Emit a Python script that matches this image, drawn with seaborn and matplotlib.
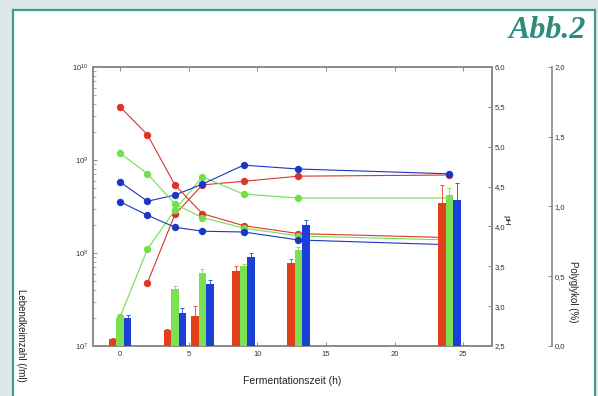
import matplotlib
matplotlib.use("Agg")
import matplotlib.pyplot as plt
import seaborn as sns
import numpy as np
import pandas as pd
from matplotlib.patches import Rectangle
from matplotlib.ticker import LogLocator, FixedLocator, NullFormatter, FuncFormatter

sns.set_theme(style="ticks")
plt.rcParams['font.family'] = ['Liberation Sans', 'DejaVu Sans']

# ---------------- data ----------------
strains = ["rot", "grün", "blau"]
colors_line = {"rot": "#dc3428", "grün": "#72de4e", "blau": "#1a36c4"}
colors_bar = {"rot": "#e2401a", "grün": "#7ae252", "blau": "#1a40d8"}

time_all = [0, 2, 4, 6, 9, 13, 24]
time_red_cells = [2, 4, 6, 9, 13, 24]
red_cells = [4.8e7, 2.6e8, 5.4e8, 5.9e8, 6.7e8, 6.9e8]
green_cells = [2.05e7, 1.1e8, 2.9e8, 6.6e8, 4.3e8, 3.9e8, 3.9e8]
blue_cells = [5.8e8, 3.6e8, 4.2e8, 5.5e8, 8.8e8, 8.0e8, 7.1e8]

red_ph = [5.50, 5.15, 4.52, 4.16, 4.01, 3.91, 3.86]
green_ph = [4.92, 4.66, 4.28, 4.11, 3.98, 3.88, 3.83]
blue_ph = [4.31, 4.14, 3.99, 3.94, 3.93, 3.83, 3.77]

bar_time = [0, 4, 6, 9, 13, 24]
red_bar = [0.05, 0.115, 0.215, 0.54, 0.595, 1.025]
green_bar = [0.20, 0.41, 0.52, 0.57, 0.69, 1.08]
blue_bar = [0.20, 0.24, 0.445, 0.64, 0.87, 1.05]
red_err = [0.01, 0.01, 0.07, 0.03, 0.03, 0.13]
green_err = [0.01, 0.02, 0.03, 0.02, 0.02, 0.05]
blue_err = [0.02, 0.03, 0.03, 0.03, 0.03, 0.12]

x_ticks = [0, 5, 10, 15, 20, 25]
ph_ticks = [2.5, 3.0, 3.5, 4.0, 4.5, 5.0, 5.5, 6.0]
pg_ticks = [0.0, 0.5, 1.0, 1.5, 2.0]

# ---------------- frames ----------------
cells_df = pd.concat([
    pd.DataFrame({"t": time_red_cells, "v": red_cells, "s": "rot"}),
    pd.DataFrame({"t": time_all, "v": green_cells, "s": "grün"}),
    pd.DataFrame({"t": time_all, "v": blue_cells, "s": "blau"}),
])
ph_df = pd.concat([
    pd.DataFrame({"t": time_all, "v": red_ph, "s": "rot"}),
    pd.DataFrame({"t": time_all, "v": green_ph, "s": "grün"}),
    pd.DataFrame({"t": time_all, "v": blue_ph, "s": "blau"}),
])
bar_df = pd.concat([
    pd.DataFrame({"t": bar_time, "v": red_bar, "e": red_err, "s": "rot"}),
    pd.DataFrame({"t": bar_time, "v": green_bar, "e": green_err, "s": "grün"}),
    pd.DataFrame({"t": bar_time, "v": blue_bar, "e": blue_err, "s": "blau"}),
])

# ---------------- figure ----------------
W, H = 598, 396
fig = plt.figure(figsize=(W / 100, H / 100), dpi=100)
fig.patch.set_facecolor("#dce9e7")
panel = Rectangle((13 / W, -0.05), (595 - 13) / W, 1 - 9.5 / H + 0.05,
                  transform=fig.transFigure, facecolor="white",
                  edgecolor="#3f9e90", linewidth=1.6, zorder=-5)
fig.add_artist(panel)

ax1 = fig.add_axes([93 / W, 1 - 346 / H, (492 - 93) / W, (346 - 67) / H])
ax1.set_facecolor("white")
ax2 = ax1.twinx()
ax3 = ax1.twinx()

spine_col = "#8a8a8a"
tick_col = "#333333"
XLIM = (-1.97, 27.1)

# lines
sns.lineplot(data=cells_df, x="t", y="v", hue="s", hue_order=strains,
             palette=colors_line, marker="o", markersize=5.3, markeredgewidth=0,
             linewidth=0.8, errorbar=None, legend=False, ax=ax1, sort=True)
sns.lineplot(data=ph_df, x="t", y="v", hue="s", hue_order=strains,
             palette=colors_line, marker="o", markersize=5.3, markeredgewidth=0,
             linewidth=0.8, errorbar=None, legend=False, ax=ax2, sort=True)

# bars
sns.barplot(data=bar_df, x="t", y="v", hue="s", hue_order=strains,
            palette=colors_bar, native_scale=True, errorbar=None,
            legend=False, ax=ax3, width=0.82, saturation=1, linewidth=0)
# error bars at the bar centres
for patch_group, s in zip(ax3.containers, strains):
    sub = bar_df[bar_df["s"] == s]
    xs = [p.get_x() + p.get_width() / 2 for p in patch_group]
    ax3.errorbar(xs, sub["v"].values,
                 yerr=[np.zeros(len(sub)), sub["e"].values],
                 fmt="none", ecolor=colors_bar[s], elinewidth=0.6,
                 capsize=1.5, capthick=0.6)

# ---------------- axes styling ----------------
ax1.set_yscale("log")
ax1.set_ylim(1e7, 1e10)
ax1.set_xlim(*XLIM)
ax1.xaxis.set_major_locator(FixedLocator(x_ticks))
ax1.yaxis.set_major_locator(LogLocator(base=10, numticks=10))
ax1.yaxis.set_minor_locator(LogLocator(base=10, subs=np.arange(2, 10), numticks=10))
ax1.yaxis.set_minor_formatter(NullFormatter())
ax1.tick_params(axis="both", which="both", direction="in", colors=spine_col,
                labelcolor=tick_col, labelsize=5.5, top=True)
ax1.tick_params(axis="both", which="major", length=3, width=0.7)
ax1.tick_params(axis="y", which="minor", length=1.8, width=0.5)
ax1.tick_params(axis="x", which="minor", length=0)
ax1.set_xlabel("")
ax1.set_ylabel("")

ax2.set_ylim(2.5, 6.0)
ax2.yaxis.set_major_locator(FixedLocator(ph_ticks))
ax2.yaxis.set_major_formatter(FuncFormatter(lambda v, p: f"{v:.1f}".replace(".", ",")))
ax2.tick_params(axis="y", direction="in", length=3, width=0.7, colors=spine_col,
                labelcolor=tick_col, labelsize=5.5, pad=2)
ax2.set_ylabel("")
ax2.set_xlabel("")

ax3.set_ylim(0, 2.0)
ax3.set_xlim(*XLIM)
ax3.yaxis.set_major_locator(FixedLocator(pg_ticks))
ax3.yaxis.set_major_formatter(FuncFormatter(lambda v, p: f"{v:.1f}".replace(".", ",")))
ax3.spines["right"].set_position(("axes", 1.15))
for sp in ["top", "left", "bottom"]:
    ax3.spines[sp].set_visible(False)
ax3.tick_params(axis="y", direction="in", length=3, width=0.7, colors=spine_col,
                labelcolor=tick_col, labelsize=5.5, pad=2)
ax3.set_ylabel("")
ax3.set_xlabel("")
ax3.patch.set_visible(False)

for ax in (ax1, ax2, ax3):
    for sp in ax.spines.values():
        sp.set_color(spine_col)
        sp.set_linewidth(1.2)

# ---------------- texts ----------------
fig.text(292 / W, 1 - 381 / H, "Fermentationszeit (h)", ha="center", va="center",
         fontsize=7.5, color="#222222")
fig.text(21 / W, 1 - 335 / H, "Lebendkeimzahl (/ml)", ha="center", va="center",
         rotation=270, fontsize=7, color="#222222")
fig.text(573 / W, 1 - 292 / H, "Polyglykol (%)", ha="center", va="center",
         rotation=270, fontsize=7, color="#222222")
fig.text(506 / W, 1 - 220 / H, "pH", ha="center", va="center",
         rotation=270, fontsize=6, color="#222222")
fig.text(586 / W, 1 - 30 / H, "Abb.2", ha="right", va="center", fontsize=23,
         style="italic", fontweight="bold",
         family=["Liberation Serif", "DejaVu Serif"], color="#2e8b7e")

fig.savefig("out.png", dpi=100, facecolor=fig.get_facecolor())
